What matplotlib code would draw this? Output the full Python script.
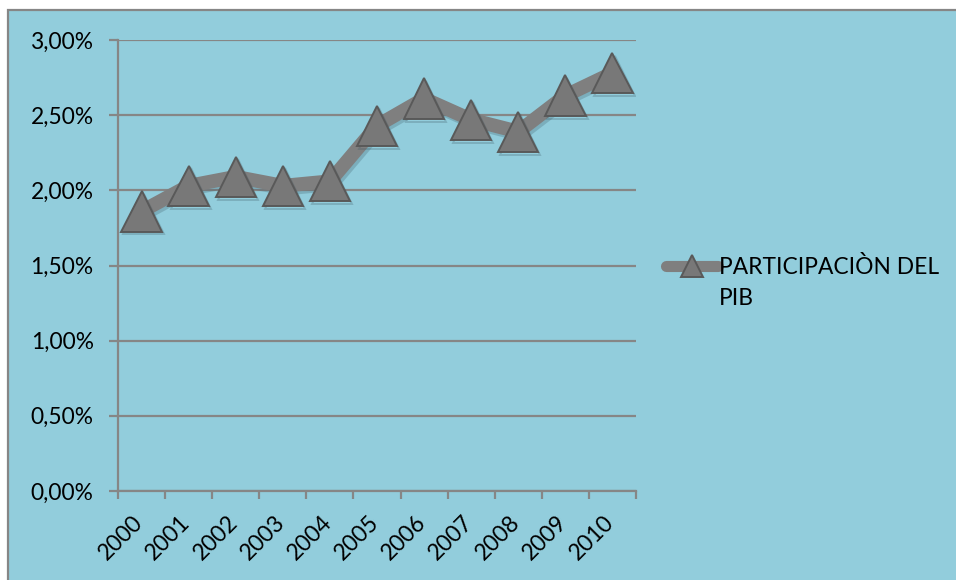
import matplotlib.pyplot as plt
from matplotlib.patches import Rectangle
from matplotlib.ticker import FuncFormatter, MultipleLocator
from matplotlib.transforms import ScaledTranslation
import matplotlib.patheffects as pe

plt.rcParams['font.family'] = ['Lato', 'DejaVu Sans']

years = ["2000", "2001", "2002", "2003", "2004", "2005",
         "2006", "2007", "2008", "2009", "2010"]
# participacion en el PIB, en %
pib = [1.86, 2.03, 2.09, 2.03, 2.06, 2.43, 2.61, 2.47, 2.39, 2.63, 2.78]
label = "PARTICIPACIÒN DEL"
label2 = "PIB"

bg = "#92cddc"
grey = "#868686"
fs = 16.4

fig = plt.figure(figsize=(9.56, 5.8), dpi=100)
fig.patch.set_facecolor("white")
fig.patches.append(Rectangle((8 / 956, -0.01), 1.0, 1 - 10 / 580 + 0.01,
                             transform=fig.transFigure, facecolor=bg,
                             edgecolor=grey, lw=1.6, zorder=-5))

ax = fig.add_axes([118 / 956, 1 - 491 / 580, (636 - 118) / 956, (491 - 40) / 580])
ax.set_facecolor("none")

x = [i + 0.5 for i in range(len(years))]
line, = ax.plot(x, pib, color="#7f7f7f", lw=10, marker="^", markersize=29,
                markerfacecolor="#787878", markeredgecolor="#595959",
                markeredgewidth=1.4, zorder=3, label=label)
line.set_path_effects([pe.SimpleLineShadow(offset=(1.5, -2), shadow_color="#3a5560",
                                           alpha=0.25), pe.Normal()])

ax.set_xlim(0, len(years))
ax.set_ylim(0, 3.0)
ax.yaxis.set_major_locator(MultipleLocator(0.5))
ax.yaxis.set_major_formatter(FuncFormatter(lambda v, p: f"{v:.2f}%".replace(".", ",")))
ax.grid(axis="y", color=grey, lw=1.6)
ax.set_axisbelow(True)

ax.set_xticks(range(len(years) + 1))
ax.set_xticklabels([])
ax.set_xticks(x, minor=True)
ax.set_xticklabels(years, minor=True, rotation=45, ha="right", rotation_mode="anchor")
ax.tick_params(axis="x", which="minor", length=0, pad=15, labelsize=fs)
ax.tick_params(axis="x", which="major", length=6, width=1.6, color=grey)
ax.tick_params(axis="y", length=6.5, width=1.6, color=grey, pad=11, labelsize=fs)

# nudge year labels left so they end just before the category centre
shift = ScaledTranslation(-9 / 100, 0, fig.dpi_scale_trans)
for t in ax.get_xticklabels(minor=True):
    t.set_transform(t.get_transform() + shift)

for s in ["top", "right"]:
    ax.spines[s].set_visible(False)
for s in ["left", "bottom"]:
    ax.spines[s].set_color(grey)
    ax.spines[s].set_linewidth(1.6)

leg = ax.legend(handles=[line], labels=[label], loc="center left",
                bbox_to_anchor=(1.035, 0.497), frameon=False, fontsize=fs,
                markerscale=0.55, handlelength=2.3, handletextpad=0.05,
                borderpad=0)
h = leg.legend_handles[0]
h.set_path_effects([])
h.set_solid_capstyle("round")
h.set_linewidth(8)
fig.canvas.draw()
bb = leg.get_texts()[0].get_window_extent()
fig.text(bb.x0 / fig.bbox.width, (bb.y0 - 10) / fig.bbox.height, label2,
         fontsize=fs, va="top", ha="left")

fig.savefig("out.png", dpi=100)
